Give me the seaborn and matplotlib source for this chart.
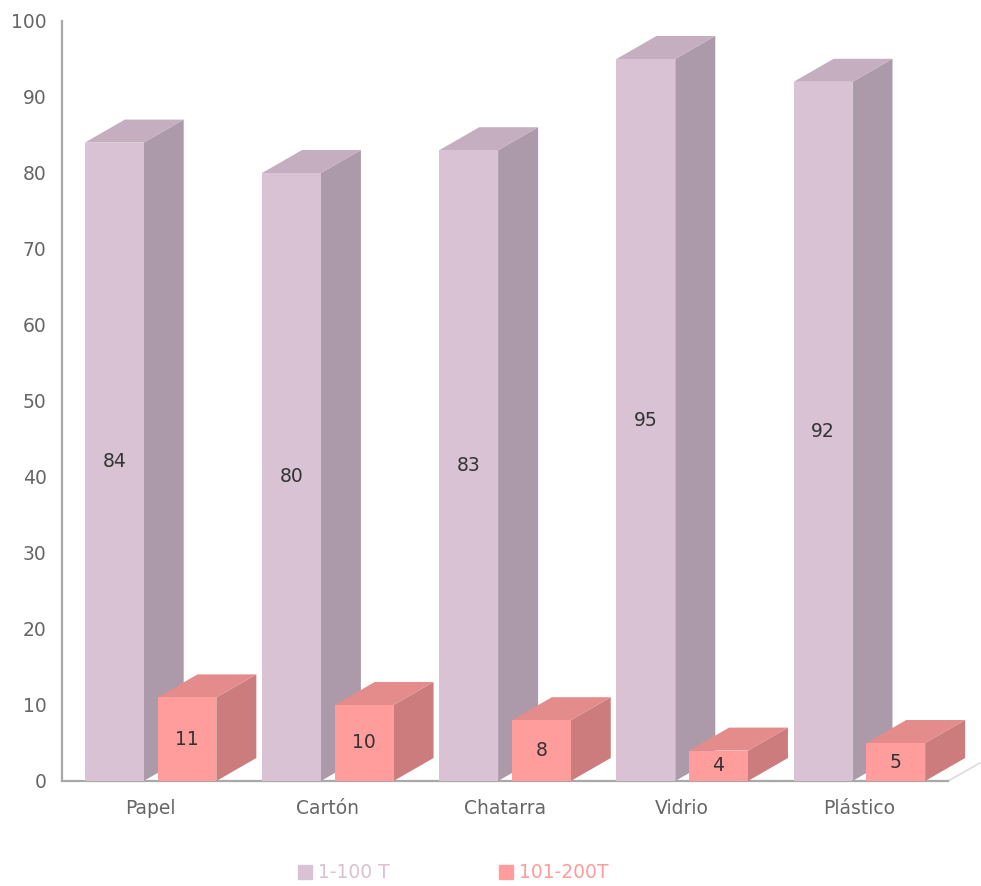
import matplotlib
matplotlib.use("Agg")
import matplotlib.pyplot as plt
import seaborn as sns
import pandas as pd
from matplotlib.patches import Polygon
from matplotlib.lines import Line2D

categories = ["Papel", "Cartón", "Chatarra", "Vidrio", "Plástico"]
series_names = ["1-100 T", "101-200T"]
values_1_100 = [84, 80, 83, 95, 92]
values_101_200 = [11, 10, 8, 4, 5]
y_ticks = [0, 10, 20, 30, 40, 50, 60, 70, 80, 90, 100]

front_cols = ["#D8C2D4", "#FF9C9C"]
side_cols = ["#AC9AAA", "#CC7C7C"]
top_cols = ["#C4AEC0", "#E48C8C"]

df = pd.DataFrame({
    "cat": categories * 2,
    "serie": [series_names[0]] * 5 + [series_names[1]] * 5,
    "val": values_1_100 + values_101_200,
})

sns.set_style("white")
plt.rcParams["font.family"] = ["DejaVu Sans"]

FS = 13.5
W, H = 981, 886
fig = plt.figure(figsize=(W / 100, H / 100), dpi=100)
ax = fig.add_axes([62 / W, (H - 781) / H, (948 - 62) / W, (781 - 21) / H])

sns.barplot(data=df, x="cat", y="val", hue="serie", order=categories,
            hue_order=series_names, palette=front_cols, saturation=1,
            width=0.82, gap=0.19, legend=False, ax=ax, errorbar=None)

ax.set_xlim(-0.5, 4.5)
ax.set_ylim(0, 100)

# depth offset (pixels -> data)
px_x = (948 - 62) / 5.0
px_y = (781 - 21) / 100.0
dx = 40 / px_x
dy = 23 / px_y

for si, cont in enumerate(ax.containers):
    for ci, bar in enumerate(cont):
        x0 = bar.get_x()
        w = bar.get_width()
        h = bar.get_height()
        x1 = x0 + w
        z = 2 + ci * 10 + si * 3
        bar.set_zorder(z + 2)
        bar.set_edgecolor("none")
        bar.set_clip_on(False)
        side = Polygon([(x1, 0), (x1 + dx, dy), (x1 + dx, h + dy), (x1, h)],
                       closed=True, facecolor=side_cols[si], edgecolor="none",
                       zorder=z, clip_on=False)
        top = Polygon([(x0, h), (x0 + dx, h + dy), (x1 + dx, h + dy), (x1, h)],
                      closed=True, facecolor=top_cols[si], edgecolor="none",
                      zorder=z + 1, clip_on=False)
        ax.add_patch(side)
        ax.add_patch(top)
        ax.text(x0 + w / 2, h / 2, f"{int(h)}", ha="center", va="center",
                fontsize=FS, color="#333333", zorder=z + 3)

# floor edge
ax.plot([4.5, 4.5 + 32 / px_x], [0, 18 / px_y], color="#DDDDDD", lw=1.2,
        clip_on=False, zorder=1)

ax.set_yticks(y_ticks)
ax.set_yticklabels([str(t) for t in y_ticks])
ax.tick_params(axis="both", length=0, labelsize=FS, labelcolor="#666666")
ax.tick_params(axis="y", pad=11)
ax.tick_params(axis="x", pad=13)
ax.set_xlabel("")
ax.set_ylabel("")
for s in ["top", "right"]:
    ax.spines[s].set_visible(False)
for s in ["left", "bottom"]:
    ax.spines[s].set_color("#A8A8A8")
    ax.spines[s].set_linewidth(1.6)
ax.spines["left"].set_zorder(0)

handles = [Line2D([], [], marker="s", linestyle="none", markersize=10.5,
                  markerfacecolor=c, markeredgecolor=c) for c in front_cols]
leg = fig.legend(handles, series_names, loc="center", ncol=2, frameon=False,
                 bbox_to_anchor=(452 / W, 1 - 873 / H), fontsize=FS,
                 handletextpad=0.2, columnspacing=5.73, handlelength=1.0)
for t, c in zip(leg.get_texts(), front_cols):
    t.set_color(c)

fig.savefig("out.png", dpi=100)
